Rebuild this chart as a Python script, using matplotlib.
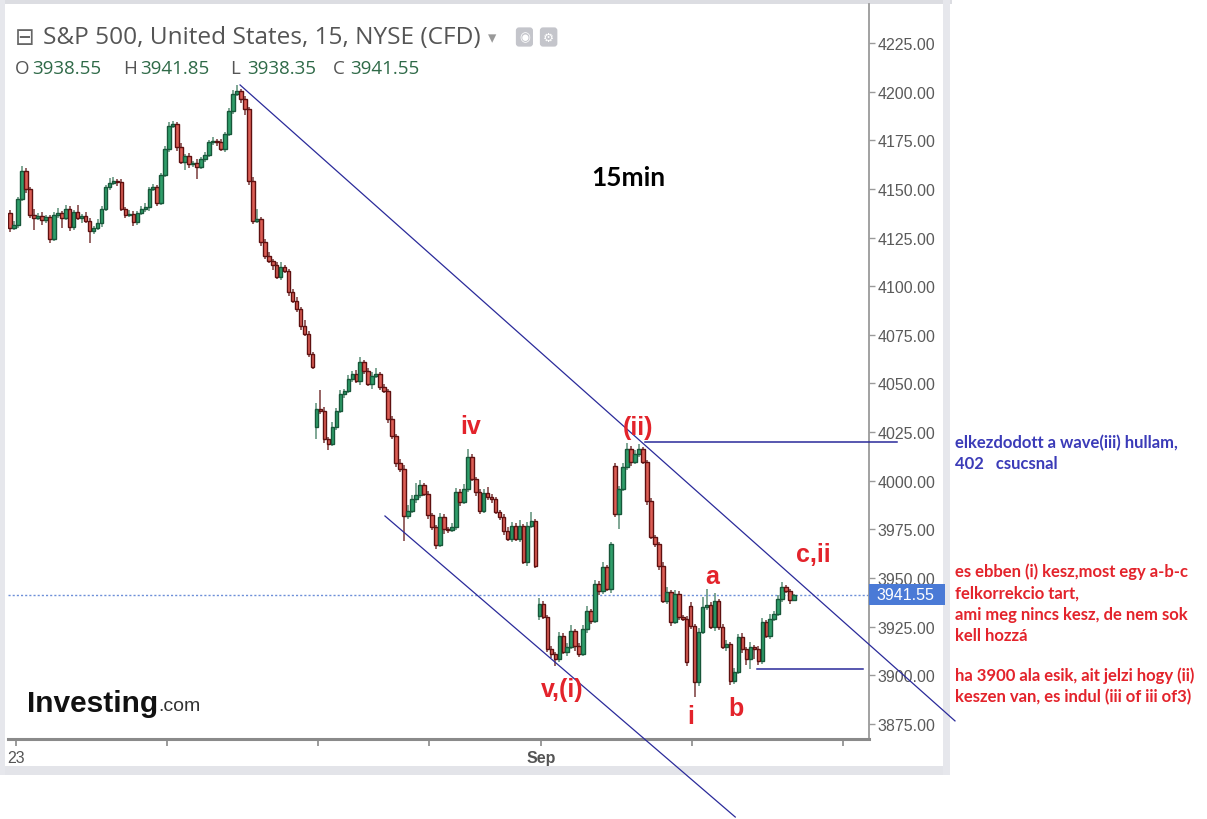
import matplotlib.pyplot as plt
from matplotlib.patches import Rectangle

# 15 minute candles (close prices), S&P 500 CFD
closes = [
    4129.9, 4131.5, 4144.8, 4159.2, 4150.0, 4136.6, 4135.1, 4136.1, 4134.0, 4135.6,
    4124.3, 4136.6, 4137.6, 4135.1, 4139.7, 4130.4, 4138.1, 4135.1, 4136.1, 4133.5,
    4128.4, 4130.0, 4132.5, 4139.7, 4151.0, 4153.0, 4154.1, 4153.6, 4139.7, 4136.6,
    4137.1, 4133.0, 4137.6, 4139.7, 4140.7, 4150.0, 4151.0, 4142.8, 4157.2, 4170.5,
    4182.3, 4183.4, 4171.5, 4163.8, 4166.9, 4162.8, 4163.5, 4161.3, 4165.4, 4167.4,
    4174.1, 4174.6, 4174.1, 4170.5, 4178.2, 4190.0, 4198.8, 4200.3, 4196.2, 4191.1,
    4154.1, 4133.5, 4134.5, 4122.7, 4115.5, 4113.0, 4110.9, 4104.7, 4109.9, 4107.8,
    4097.0, 4092.4, 4088.3, 4079.6, 4075.4, 4065.2, 4058.5, 4036.9, 4035.9, 4021.5,
    4018.9, 4027.6, 4035.9, 4044.6, 4046.2, 4052.3, 4054.9, 4051.3, 4061.1, 4056.4,
    4049.7, 4053.9, 4054.9, 4048.2, 4046.2, 4031.8, 4023.0, 4009.2, 4006.1, 3981.9,
    3984.5, 3990.7, 3992.7, 3997.8, 3993.2, 3982.4, 3976.3, 3967.0, 3981.4, 3975.2,
    3974.7, 3976.3, 3994.2, 3989.1, 3995.8, 4012.2, 4000.9, 3994.2, 3984.5, 3993.7,
    3991.7, 3990.7, 3984.0, 3981.4, 3974.2, 3970.1, 3976.8, 3970.1, 3976.8, 3958.3,
    3976.8, 3979.3, 3956.2, 3936.7, 3930.0, 3913.6, 3911.0, 3908.4, 3920.2, 3912.0,
    3914.6, 3922.8, 3915.1, 3911.0, 3923.8, 3933.1, 3927.9, 3947.0, 3943.4, 3955.7,
    3944.4, 3967.5, 3983.0, 3995.8, 4007.1, 4016.3, 4009.7, 4013.8, 4016.3, 4009.7,
    3989.6, 3971.1, 3967.5, 3956.2, 3938.2, 3942.9, 3927.4, 3941.8, 3930.0, 3929.0,
    3906.9, 3925.4, 3896.6, 3922.3, 3935.2, 3936.2, 3924.9, 3938.2, 3924.9, 3914.6,
    3916.1, 3897.1, 3901.7, 3919.7, 3913.6, 3908.4, 3914.6, 3913.6, 3907.4, 3927.4,
    3920.2, 3929.0, 3931.6, 3939.3, 3945.4, 3943.4, 3938.55, 3941.55,
]
# session opens that gap away from the previous close
gap_opens = {0: 4137.6, 77: 4027.6, 133: 3930.5, 152: 4007.6, 171: 3935.7}

wick_up = [
    1.5, 2.0, 1.0, 2.5, 1.5, 1.0, 3.0, 1.5, 2.0, 1.0,
    1.0, 1.5, 2.5, 1.0, 2.0, 1.5, 1.0, 3.5, 1.0, 2.0,
    1.5, 1.0, 2.0, 1.5, 1.0, 2.5, 2.0, 1.0, 1.5, 1.0,
    2.0, 1.5, 1.0, 1.5, 2.0, 1.0, 1.5, 1.0, 1.0, 1.5,
    2.0, 1.5, 1.0, 2.0, 1.0, 1.5, 1.0, 2.0, 1.0, 1.5,
    1.0, 2.0, 1.0, 1.5, 1.0, 1.5, 2.0, 3.2, 1.0, 1.5,
    1.0, 2.0, 5.0, 1.0, 1.5, 2.0, 1.0, 1.5, 2.5, 1.0,
    1.0, 1.5, 2.0, 1.0, 3.0, 1.5, 1.0, 3.0, 10.0, 2.0,
    1.0, 2.5, 1.5, 2.0, 1.0, 2.0, 1.5, 2.0, 2.5, 1.0,
    1.5, 2.0, 3.0, 1.0, 1.5, 1.0, 1.5, 1.0, 2.0, 2.0,
    3.0, 2.0, 6.0, 2.5, 1.0, 1.5, 1.0, 1.0, 2.0, 1.5,
    1.0, 2.0, 2.0, 1.5, 2.5, 4.0, 1.5, 1.0, 1.5, 2.0,
    3.0, 1.5, 1.0, 1.0, 1.5, 2.0, 2.0, 1.5, 3.0, 1.0,
    2.0, 4.5, 1.0, 3.0, 1.5, 1.0, 1.5, 1.0, 2.0, 1.5,
    2.0, 3.0, 1.0, 1.5, 2.0, 2.5, 1.0, 2.0, 1.5, 2.5,
    1.0, 1.0, 1.5, 1.5, 2.0, 3.0, 1.5, 2.0, 2.7, 1.0,
    1.0, 1.5, 1.0, 1.0, 2.0, 2.5, 1.0, 2.0, 1.5, 1.0,
    1.5, 2.0, 1.0, 2.0, 5.0, 8.0, 1.5, 4.0, 1.0, 1.5,
    2.0, 1.0, 2.0, 1.5, 2.0, 1.0, 2.5, 1.0, 1.5, 2.0,
    1.0, 2.5, 1.5, 2.0, 2.5, 1.0, 1.0, 0.3,
]
wick_dn = [
    2.0, 1.0, 1.5, 1.0, 2.0, 1.5, 6.0, 1.0, 2.5, 1.5,
    2.0, 1.0, 1.5, 5.0, 1.0, 2.0, 1.5, 1.0, 2.5, 1.0,
    6.0, 1.5, 1.0, 2.0, 1.0, 1.5, 1.0, 2.0, 1.0, 1.5,
    1.0, 2.0, 1.5, 1.0, 1.5, 2.0, 1.0, 1.5, 1.0, 1.0,
    1.5, 1.0, 2.0, 1.0, 4.0, 2.0, 1.5, 6.0, 1.0, 1.5,
    1.0, 1.5, 2.0, 1.0, 1.5, 1.0, 1.5, 1.0, 2.0, 3.0,
    2.0, 1.5, 1.0, 2.0, 1.5, 1.0, 2.5, 1.0, 1.5, 1.0,
    2.0, 1.0, 1.5, 2.0, 1.0, 1.5, 1.0, 6.0, 1.5, 2.0,
    3.0, 1.0, 1.5, 1.0, 2.0, 1.0, 1.5, 1.0, 2.0, 1.5,
    1.0, 2.5, 1.0, 1.5, 1.0, 2.0, 1.5, 2.0, 1.5, 12.7,
    1.5, 1.0, 2.0, 1.5, 1.0, 2.0, 1.5, 2.0, 1.0, 2.5,
    1.5, 1.0, 1.5, 2.0, 1.0, 1.5, 1.0, 2.0, 1.5, 1.0,
    1.5, 2.0, 1.0, 1.5, 2.0, 1.0, 1.5, 1.0, 1.5, 1.0,
    2.0, 1.0, 1.0, 2.0, 1.0, 1.5, 2.0, 3.6, 1.5, 1.0,
    2.0, 1.0, 2.5, 1.5, 1.0, 2.0, 1.5, 1.0, 2.0, 1.5,
    1.0, 2.0, 1.5, 8.0, 1.0, 1.5, 2.0, 1.0, 1.5, 1.0,
    2.0, 1.0, 1.5, 2.0, 1.0, 1.5, 2.0, 1.0, 1.5, 1.0,
    2.0, 1.5, 7.6, 2.0, 1.0, 1.5, 1.0, 2.0, 1.5, 1.0,
    2.0, 2.0, 1.5, 1.0, 2.0, 3.0, 5.0, 5.0, 2.0, 1.5,
    1.0, 1.5, 1.0, 1.0, 1.5, 1.0, 2.0, 0.2,
]

price_ticks = [3875, 3900, 3925, 3950, 3975, 4000, 4025, 4050, 4075, 4100,
               4125, 4150, 4175, 4200, 4225]
date_ticks = [1.6, 39.4, 77.4, 105.3, 133.4, 171.4, 209.3]
date_labels = ["23", "", "", "", "Sep", "", ""]

last_price = 3941.55
ohlc_last = [("O", "3938.55"), ("H", "3941.85"), ("L", "3938.35"), ("C", "3941.55")]

# hand drawn channel and levels, as (bar index, price)
channel_top = [(57.8, 4203.4), (237.4, 3876.6)]
channel_bottom = [(94.2, 3981.9), (182.2, 3827.2)]
level_ii = [(159.5, 4019.9), (222.9, 4019.9)]
level_3900 = [(187.7, 3903.3), (214.3, 3903.3)]

wave_labels = [
    ("iv", 115.6, 4028.2),
    ("(ii)", 157.8, 4027.6),
    ("a", 176.4, 3951.1),
    ("c,ii", 201.8, 3962.4),
    ("v,(i)", 138.7, 3893.0),
    ("i", 171.1, 3879.1),
    ("b", 182.4, 3883.2),
]

notes_blue = ["elkezdodott a wave(iii) hullam,", "402   csucsnal"]
notes_red = ["es ebben (i) kesz,most egy a-b-c", "felkorrekcio tart,",
             "ami meg nincs kesz, de nem sok", "kell hozzá"]
notes_red2 = ["ha 3900 ala esik, ait jelzi hogy (ii)",
              "keszen van, es indul (iii of iii of3)"]

W, H = 1207, 820


def fx(px):
    return px / W


def fy(py):
    return 1 - py / H


fig = plt.figure(figsize=(W / 100, H / 100), dpi=100)
fig.patch.set_facecolor("white")

# frame pieces of the widget
for x0, y0, x1, y1, col in [
    (0, 0, 952, 5, "#dcdde2"),
    (0, 0, 5, 776, "#e6e7ec"),
    (5, 767, 950, 776, "#e3e4e9"),
    (943, 0, 950, 776, "#e6e7ec"),
]:
    fig.add_artist(Rectangle((fx(x0), fy(y1)), fx(x1) - fx(x0), fy(y0) - fy(y1),
                             transform=fig.transFigure, color=col, lw=0, zorder=-5))

ax = fig.add_axes([fx(8), fy(740), fx(869) - fx(8), fy(5) - fy(740)])
ax.set_facecolor("white")

n = len(closes)
opens = [gap_opens.get(i, closes[i - 1] if i else closes[0]) for i in range(n)]
highs = [max(o, c) + w for o, c, w in zip(opens, closes, wick_up)]
lows = [min(o, c) - w for o, c, w in zip(opens, closes, wick_dn)]

for i, (o, h, l, c) in enumerate(zip(opens, highs, lows, closes)):
    up = c >= o
    fill = "#2f9e6a" if up else "#dc5e55"
    edge = "#17573a" if up else "#5e1010"
    wick = "#5d8f78" if up else "#7a3a3a"
    ax.vlines(i, l, h, colors=wick, lw=1.1, zorder=2)
    body = max(abs(c - o), 0.6)
    ax.bar(i, body, bottom=min(o, c), width=0.9, color=fill,
           edgecolor=edge, linewidth=1.0, zorder=3)

# current price line and tag
ax.axhline(last_price, color="#6d8fd8", lw=1, ls=(0, (1.5, 1.5)), zorder=1)
ax.add_patch(Rectangle((1.0, last_price - 5.2), 76 / 861, 10.4,
                       transform=ax.get_yaxis_transform(), clip_on=False,
                       color="#4a7ad6", lw=0, zorder=6))
ax.text(1.0 + 7 / 861, last_price, f"{last_price:.2f}", transform=ax.get_yaxis_transform(),
        ha="left", va="center", color="white", fontsize=11.5,
        family="Liberation Sans", zorder=7, clip_on=False)

# channel lines and levels
line_col = "#2a2a9a"
for seg in (channel_top, channel_bottom):
    ax.plot([p[0] for p in seg], [p[1] for p in seg], color=line_col, lw=0.9,
            clip_on=False, zorder=4)
for seg in (level_ii, level_3900):
    ax.plot([p[0] for p in seg], [p[1] for p in seg], color=line_col, lw=1.1,
            clip_on=False, zorder=4)

for txt, xi, yp in wave_labels:
    ax.text(xi, yp, txt, ha="center", va="center", color="#e3232b", fontsize=18,
            fontweight="bold", family="Liberation Sans", zorder=5, clip_on=False)

ax.text((628 - 8) / 861, 4156.0, "15min", transform=ax.get_yaxis_transform(),
        ha="center", va="center", fontsize=19, fontweight="bold", family="Lato",
        color="black")

ax.set_xlim(-0.5, 215.8)
ax.set_ylim(3867.3, 4245.0)

for side in ("top", "left"):
    ax.spines[side].set_visible(False)
ax.spines["bottom"].set_color("#8a8a8a")
ax.spines["bottom"].set_linewidth(2.2)
ax.spines["right"].set_color("#9a9a9a")
ax.spines["right"].set_linewidth(1.3)

ax.yaxis.tick_right()
ax.set_yticks(price_ticks)
ax.set_yticklabels([f"{v:.2f}" for v in price_ticks], family="Liberation Sans")
ax.tick_params(axis="y", length=4, width=1, color="#9a9a9a", labelsize=11.5,
               labelcolor="#5a5a5a", pad=2)
ax.set_xticks(date_ticks)
ax.set_xticklabels(date_labels, family="Liberation Sans")
ax.tick_params(axis="x", length=5, width=1.2, color="#8a8a8a", labelsize=11.5,
               labelcolor="#555555", pad=3)
for lab in ax.get_xticklabels():
    if lab.get_text() == "Sep":
        lab.set_fontweight("bold")

# header
fig.text(fx(15), fy(38), "\u229f", fontsize=17, color="#666666", va="center",
         family="DejaVu Sans")
fig.text(fx(43), fy(38), "S&P 500, United States, 15, NYSE (CFD)", fontsize=17.6,
         color="#555555", va="center", family="Open Sans")
fig.text(fx(488), fy(38), "\u25be", fontsize=12, color="#999999", va="center",
         family="DejaVu Sans")
fig.text(fx(519), fy(38), "\u25c9", fontsize=9, color="white", va="center",
         family="DejaVu Sans",
         bbox=dict(boxstyle="round,pad=0.25", fc="#c4c5cb", ec="none"))
fig.text(fx(543), fy(38), "\u2699", fontsize=9, color="white", va="center",
         family="DejaVu Sans",
         bbox=dict(boxstyle="round,pad=0.25", fc="#c4c5cb", ec="none"))

ohlc_x = [15, 123, 230, 333]
for (letter, val), x0 in zip(ohlc_last, ohlc_x):
    fig.text(fx(x0), fy(69), letter, fontsize=13.5, color="#555555", va="center",
             family="Open Sans")
    fig.text(fx(x0 + 17), fy(69), val, fontsize=13.5, color="#2f6a48", va="center",
             family="Open Sans")

# watermark logo
fig.text(fx(27), fy(704), "Investing", fontsize=21.5, fontweight="bold",
         color="#111111", va="center", family="Liberation Sans")
fig.text(fx(158), fy(707), ".com", fontsize=14, color="#333333", va="center",
         family="Liberation Sans")

# notes on the right
for k, line in enumerate(notes_blue):
    fig.text(fx(955), fy(443 + 21 * k), line, fontsize=12, fontweight="bold",
             color="#3b3bb8", va="center", family="Lato")
for k, line in enumerate(notes_red):
    fig.text(fx(955), fy(572 + 21.3 * k), line, fontsize=12, fontweight="bold",
             color="#e3232b", va="center", family="Lato")
for k, line in enumerate(notes_red2):
    fig.text(fx(955), fy(676 + 21 * k), line, fontsize=12, fontweight="bold",
             color="#e3232b", va="center", family="Lato")

fig.savefig("out.png", dpi=100)
